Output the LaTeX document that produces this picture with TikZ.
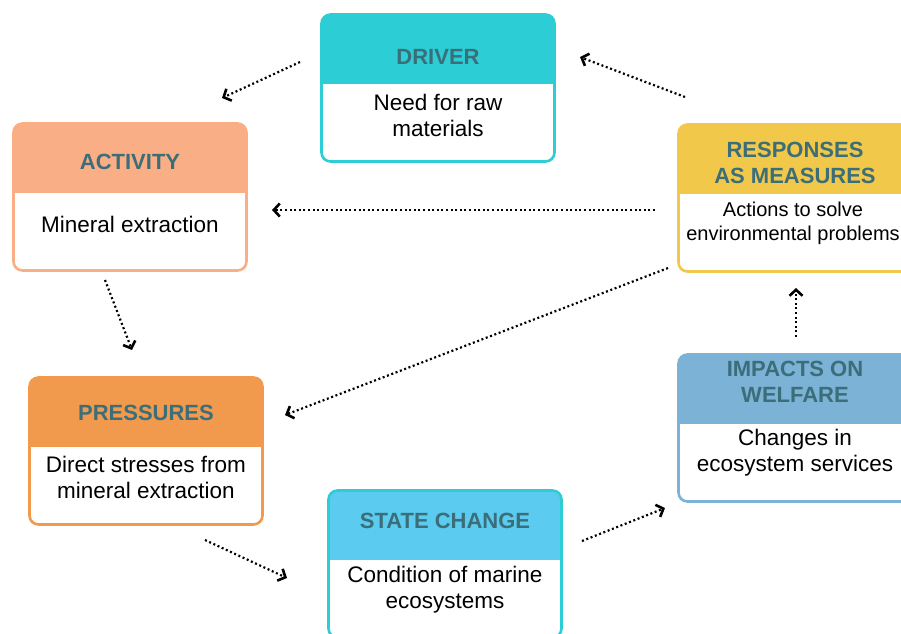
\documentclass[tikz,border=0pt]{standalone}
\usepackage{fontspec}
\setmainfont{Liberation Sans}
\usetikzlibrary{arrows.meta}
\definecolor{drvcol}{HTML}{2DCDD5}
\definecolor{actcol}{HTML}{F9AE86}
\definecolor{rescol}{HTML}{F2C84B}
\definecolor{precol}{HTML}{F19A4E}
\definecolor{stacol}{HTML}{5BCBF0}
\definecolor{impcol}{HTML}{7BB2D5}
\definecolor{titcol}{HTML}{3B6E78}
\tikzstyle{stage}=[draw=#1,fill=white,line width=2.6pt,rounded corners=9pt,minimum width=233pt,minimum height=147pt,inner sep=0pt]
\tikzstyle{head}=[text=titcol,font=\fontsize{22}{26}\selectfont\bfseries,align=center]
\tikzstyle{body}=[font=\fontsize{22.5}{26}\selectfont,align=center]
\tikzstyle{link}=[line width=2.2pt,dash pattern=on 2pt off 2.6pt,-{Straight Barb[length=6pt,width=13pt,line width=2.6pt]}]
\tikzset{band/.style={path picture={\fill[#1,sharp corners] (path picture bounding box.north west) rectangle ([yshift=-69pt]path picture bounding box.north east);}}}

\begin{document}
\begin{tikzpicture}[x=1pt,y=-1pt]
		\clip (0,0) rectangle (901,633);

		\node[stage=drvcol,band=drvcol] (driver) at (438,88) {};
		\node[head] (drvt) at (438,57) {DRIVER};
		\node[body] (drvb) at (438,115) {Need for raw\\materials};

		\node[stage=actcol,band=actcol] (activity) at (130,197) {};
		\node[head] (actt) at (130,162) {ACTIVITY};
		\node[body] (actb) at (130,224) {Mineral extraction};

		\node[stage=rescol,band=rescol] (responses) at (795,198) {};
		\node[head] (rest) at (795,163) {RESPONSES\\AS MEASURES};
		\node[body,font=\fontsize{20}{24}\selectfont] (resb) at (793,223) {Actions to solve\\environmental problems};

		\node[stage=precol,band=precol] (pressures) at (146,451) {};
		\node[head] (pret) at (146,413) {PRESSURES};
		\node[body] (preb) at (146,477) {Direct stresses from\\mineral extraction};

		\node[stage=drvcol,band=stacol] (state) at (445,564) {};
		\node[head] (stat) at (445,521) {STATE CHANGE};
		\node[body] (stab) at (445,590) {Condition of marine\\ecosystems};

		\node[stage=impcol,band=impcol] (impacts) at (795,428) {};
		\node[head] (impt) at (795,382) {IMPACTS ON\\WELFARE};
		\node[body] (impb) at (795,453) {Changes in\\ecosystem services};

		% loose ends of the links
		\coordinate (d1) at (300,62);   \coordinate (a1) at (222,98);
		\coordinate (r1) at (685,97);   \coordinate (d2) at (580,57);
		\coordinate (r2) at (655,210);  \coordinate (a2) at (272,210);
		\coordinate (a3) at (105,280);  \coordinate (p1) at (132,350);
		\coordinate (r3) at (668,268);  \coordinate (p2) at (285,415);
		\coordinate (p3) at (205,540);  \coordinate (s1) at (287,578);
		\coordinate (s2) at (582,541);  \coordinate (i1) at (665,508);
		\coordinate (i2) at (796,337);  \coordinate (r4) at (796,288);

		\draw[link] (d1) -- (a1);
		\draw[link] (r1) -- (d2);
		\draw[link] (r2) -- (a2);
		\draw[link] (a3) -- (p1);
		\draw[link] (r3) -- (p2);
		\draw[link] (p3) -- (s1);
		\draw[link] (s2) -- (i1);
		\draw[link] (i2) -- (r4);
	\end{tikzpicture}
\end{document}
